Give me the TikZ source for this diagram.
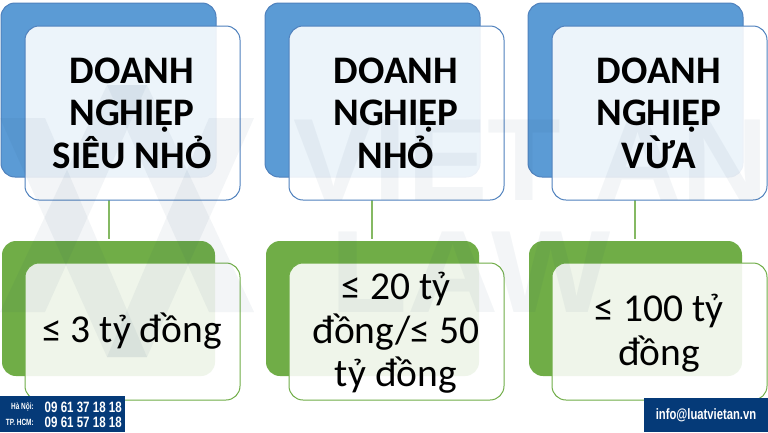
\documentclass[tikz,border=0pt]{standalone}
\usepackage{fontspec}
\setmainfont{Carlito}
\newfontfamily\condfont{Liberation Sans}
\definecolor{wmc}{RGB}{25,65,105}
\definecolor{blueback}{RGB}{91,155,213}
\definecolor{blueedge}{RGB}{79,129,189}
\definecolor{greenback}{RGB}{112,173,71}
\definecolor{navy}{RGB}{5,58,120}
\newcommand\narrow[2]{\scalebox{#1}[1]{#2}}
\tikzset{
  x=1pt,y=-1pt,
  blueBack/.style={fill=blueback,draw=blueedge,line width=1pt,rounded corners=14pt},
  blueFront/.style={fill=white,fill opacity=.89,draw=blueedge,line width=1pt,rounded corners=14pt},
  greenBack/.style={fill=greenback,draw=none,rounded corners=14pt},
  greenFront/.style={fill=white,fill opacity=.89,draw=greenback,line width=1pt,rounded corners=14pt},
  link/.style={draw=greenback!85!white,line width=1.3pt},
  head/.style={align=center,font=\fontsize{39}{42.5}\selectfont\bfseries,text=black,inner sep=0pt},
  body/.style={align=center,font=\fontsize{39.5}{43.5}\selectfont,text=black,inner sep=0pt},
  wmtext/.style={text=wmc,font=\condfont\fontsize{117}{117}\selectfont\bfseries,inner sep=0pt,opacity=.05},
  wmshape/.style={fill=wmc,opacity=.05},
  phone/.style={text=white,font=\condfont\fontsize{15}{15}\selectfont\bfseries,inner sep=0pt},
  plabel/.style={text=white,font=\condfont\fontsize{9}{9}\selectfont\bfseries,inner sep=0pt},
}
\begin{document}
\begin{tikzpicture}
\useasboundingbox (0,0) rectangle (768,432);
\fill[white] (0,0) rectangle (768,432);
% connectors
\coordinate (c1a) at (109,200); \coordinate (c1b) at (109,239);
\coordinate (c2a) at (372,200); \coordinate (c2b) at (372,239);
\coordinate (c3a) at (635,200); \coordinate (c3b) at (635,239);
\draw[link] (c1a) -- (c1b);
\draw[link] (c2a) -- (c2b);
\draw[link] (c3a) -- (c3b);
% boxes
\draw[blueBack] (1,3) rectangle (216,177);
\draw[blueFront] (25,26) rectangle (240,200);
\fill[greenBack] (2,241) rectangle (215,376);
\draw[greenFront] (25,263) rectangle (240,400);
\draw[blueBack] (265,3) rectangle (480,177);
\draw[blueFront] (289,26) rectangle (504,200);
\fill[greenBack] (266,241) rectangle (479,376);
\draw[greenFront] (289,263) rectangle (504,400);
\draw[blueBack] (528,3) rectangle (743,177);
\draw[blueFront] (552,26) rectangle (767,200);
\fill[greenBack] (529,241) rectangle (742,376);
\draw[greenFront] (552,263) rectangle (767,400);
% watermark over the boxes
\fill[wmshape] (0,118) -- (45,118) -- (147,357) -- (107,357) -- cycle;
\fill[wmshape] (254,118) -- (209,118) -- (107,357) -- (147,357) -- cycle;
\fill[wmshape] (0,312) -- (45,312) -- (147,85) -- (107,85) -- cycle;
\fill[wmshape] (254,312) -- (209,312) -- (107,85) -- (147,85) -- cycle;
\begin{scope}
\clip (0,0) rectangle (768,432);
\node[wmtext,anchor=base west] (wmA) at (293,200) {\narrow{1.03}{VIET AN}};
\end{scope}
\node[wmtext,anchor=base west] (wmB) at (330,312) {\narrow{1.08}{LAW}};
% texts
\node[head] (h1) at (132,113) {DOANH\\NGHIỆP\\SIÊU NHỎ};
\node[body] (b1) at (132,331) {≤ 3 tỷ đồng};
\node[head] (h2) at (396,113) {DOANH\\NGHIỆP\\NHỎ};
\node[body] (b2) at (396,333) {≤ 20 tỷ\\đồng/≤ 50\\tỷ đồng};
\node[head] (h3) at (659,113) {DOANH\\NGHIỆP\\VỪA};
\node[body] (b3) at (659,333) {≤ 100 tỷ\\đồng};
% footer
\fill[navy] (0,396) rectangle (125,432);
\fill[navy] (644,398) rectangle (768,432);
\node[plabel,anchor=east] (p1) at (34,407) {\narrow{.72}{Hà Nội:}};
\node[plabel,anchor=east] (p2) at (34,422) {\narrow{.72}{TP. HCM:}};
\node[phone,anchor=east] (n1) at (122,407) {\narrow{.77}{09 61 37 18 18}};
\node[phone,anchor=east] (n2) at (122,422) {\narrow{.77}{09 61 57 18 18}};
\node[phone,anchor=center] (mail) at (706,415) {\narrow{.75}{info@luatvietan.vn}};
\end{tikzpicture}
\end{document}
